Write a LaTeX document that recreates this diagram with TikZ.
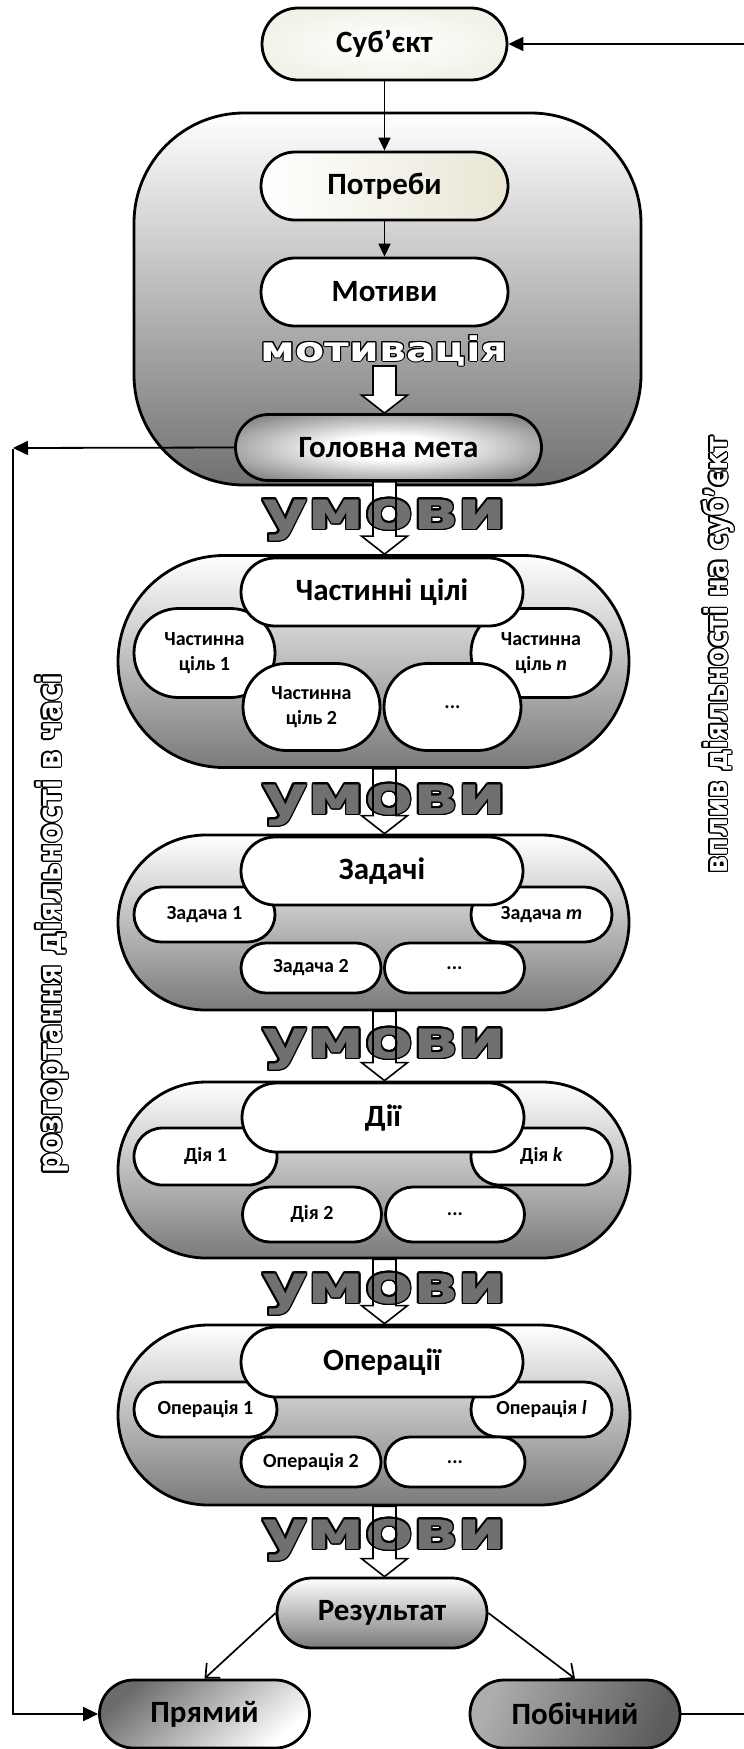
\documentclass[tikz,border=0pt]{standalone}
\usepackage{fontspec}
\setmainfont{Carlito}
\newfontfamily\umfont{DejaVu Sans}[FakeStretch=1.3]
\newfontfamily\motfont{DejaVu Sans}[FakeStretch=1.25]
\newfontfamily\rotfont{DejaVu Sans}[FakeStretch=0.88]
\usetikzlibrary{shapes.misc,arrows.meta,calc}
\definecolor{cream}{RGB}{243,242,233}
\definecolor{creamr}{RGB}{233,230,212}
\definecolor{umgray}{RGB}{112,112,112}
\pgfdeclareradialshading{glow}{\pgfpoint{0bp}{0bp}}{color(0bp)=(white); color(9bp)=(white); color(30bp)=(black!45); color(42bp)=(black!62); color(50bp)=(black!66)}

% outlined text: #1 name, #2 position, #3 style, #4 fill colour, #5 outline radius, #6 text
\newcommand\olnode[6]{%
  \foreach \oa in {0,22.5,...,337.5}{\node[#3,text=black] at ($(#2)+(\oa:#5)$) {#6};}
  \node[#3,text=#4] (#1) at (#2) {#6};}

% hollow block arrow from coordinate #2 to coordinate #3
\newcommand\blockarrow[3][]{%
  \path[#1] ($(#2)+(-11.5,0)$) -- ($(#3)+(-11.5,-18)$) -- ($(#3)+(-23,-18)$) -- (#3)
    -- ($(#3)+(23,-18)$) -- ($(#3)+(11.5,-18)$) -- ($(#2)+(11.5,0)$) -- cycle;}

\tikzset{
  pill/.style={rounded rectangle, draw=black, line width=2.8pt, inner sep=0pt, align=center},
  bigt/.style={font=\fontsize{31}{34}\selectfont\bfseries},
  smallt/.style={font=\fontsize{20}{25}\selectfont\bfseries},
  wpill/.style={pill, fill=white},
  grp/.style={pill, top color=white, bottom color=black!52},
  thinarrow/.style={line width=1.5pt, -{Triangle[length=13pt,width=12pt]}},
  fbarrow/.style={line width=1.8pt, -{Triangle[length=15pt,width=14pt]}},
  resarrow/.style={line width=1.7pt, -{Straight Barb[length=11pt,width=20pt,line width=1.7pt]}},
  umovst/.style={anchor=base, font=\umfont\bfseries\fontsize{54}{54}\selectfont},
  motst/.style={anchor=base, font=\motfont\bfseries\fontsize{34}{34}\selectfont},
  rotst/.style={anchor=base, rotate=90, font=\rotfont\bfseries\fontsize{33}{33}\selectfont},
  rotst2/.style={anchor=base, rotate=90, font=\rotfont\bfseries\fontsize{31}{31}\selectfont},
  bafill/.style={fill=white},
  badraw/.style={draw=black, line width=1.6pt, line join=miter},
}

\newcommand\umovy[4]{%
  \blockarrow[bafill]{#2}{#3}
  \olnode{#1}{#4}{umovst}{umgray}{1.5}{умови}
  \blockarrow[badraw]{#2}{#3}}

\begin{document}
\begin{tikzpicture}[x=1pt,y=-1pt]
\useasboundingbox (0,0) rectangle (744,1749);
\coordinate (ax) at (384.5,0);

% ---------- motivation block ----------
\node[draw=black, line width=2.8pt, rounded corners=110pt, minimum width=507pt, minimum height=372pt,
      top color=white, bottom color=black!56, inner sep=0pt] (motbox) at (387.5,299) {};
\node[pill, bigt, minimum width=245pt, minimum height=72pt, inner color=white, outer color=cream] (sub) at (384.5,44) {Суб’єкт};
\node[pill, bigt, minimum width=247pt, minimum height=68pt, left color=white, right color=creamr] (potr) at (384.5,186) {Потреби};
\node[wpill, bigt, minimum width=247pt, minimum height=68pt] (motyv) at (384.5,292) {Мотиви};
\draw[thinarrow] (sub.south) -- (potr.north);
\draw[thinarrow] (potr.south) -- (motyv.north);
\olnode{motiv}{384.5,361}{motst}{white}{1.0}{мотивація}
\node[pill, bigt, minimum width=306pt, minimum height=66pt, shading=glow] (gm) at (388.5,447.5) {Головна мета};
\coordinate (mst) at (384.5,366);
\coordinate (gmn) at (gm.north -| ax);
\blockarrow[bafill]{mst}{gmn}
\blockarrow[badraw]{mst}{gmn}

% ---------- group 1 ----------
\node[grp, minimum width=511pt, minimum height=212pt] (g1) at (373.5,661.5) {};
\node[wpill, smallt, minimum width=141pt, minimum height=89pt] (g1a) at (204.5,653) {Частинна\\ціль 1};
\node[wpill, smallt, minimum width=140pt, minimum height=89pt] (g1n) at (541,653) {Частинна\\ціль \textit{n}};
\node[wpill, bigt, minimum width=282pt, minimum height=68pt] (g1t) at (382,592) {Частинні цілі};
\node[wpill, smallt, minimum width=137pt, minimum height=87pt] (g1b) at (311.5,707) {Частинна\\ціль 2};
\node[wpill, smallt, minimum width=137pt, minimum height=87pt] (g1d) at (452.5,707) {...};

% ---------- group 2 ----------
\node[grp, minimum width=511pt, minimum height=175pt] (g2) at (373.5,922.5) {};
\node[wpill, smallt, minimum width=141pt, minimum height=55pt] (g2a) at (204.5,914.5) {Задача 1};
\node[wpill, smallt, minimum width=141pt, minimum height=55pt] (g2n) at (541.5,914.5) {Задача \textit{m}};
\node[wpill, bigt, minimum width=282pt, minimum height=68pt] (g2t) at (382,871) {Задачі};
\node[wpill, smallt, minimum width=140pt, minimum height=50pt] (g2b) at (311,968) {Задача 2};
\node[wpill, smallt, minimum width=140pt, minimum height=50pt] (g2d) at (454.5,968) {...};

% ---------- group 3 ----------
\node[grp, minimum width=512pt, minimum height=176pt] (g3) at (374,1170) {};
\node[wpill, smallt, minimum width=143pt, minimum height=57pt] (g3a) at (205.5,1156.5) {Дія 1};
\node[wpill, smallt, minimum width=141pt, minimum height=57pt] (g3n) at (541.5,1156.5) {Дія \textit{k}};
\node[wpill, bigt, minimum width=282pt, minimum height=69pt] (g3t) at (383,1117.5) {Дії};
\node[wpill, smallt, minimum width=139pt, minimum height=55pt] (g3b) at (312,1214.5) {Дія 2};
\node[wpill, smallt, minimum width=139pt, minimum height=55pt] (g3d) at (455,1214.5) {...};

% ---------- group 4 ----------
\node[grp, minimum width=512pt, minimum height=180pt] (g4) at (374,1415) {};
\node[wpill, smallt, minimum width=143pt, minimum height=55pt] (g4a) at (205.5,1409.5) {Операція 1};
\node[wpill, smallt, minimum width=141pt, minimum height=55pt] (g4n) at (541.5,1409.5) {Операція \textit{l}};
\node[wpill, bigt, minimum width=282pt, minimum height=70pt] (g4t) at (382,1362) {Операції};
\node[wpill, smallt, minimum width=140pt, minimum height=50pt] (g4b) at (311,1462) {Операція 2};
\node[wpill, smallt, minimum width=140pt, minimum height=50pt] (g4d) at (455,1462) {...};

% ---------- results ----------
\node[pill, bigt, minimum width=210pt, minimum height=70pt, top color=white, bottom color=black!52] (res) at (382,1613) {Результат};
\node[pill, bigt, minimum width=210pt, minimum height=68pt, top color=black!58, bottom color=white, shading angle=40] (pr) at (204.5,1714) {Прямий};
\node[pill, bigt, minimum width=210pt, minimum height=68pt, left color=black!32, middle color=white!92!black, right color=black!64, shading angle=70] (pb) at (575,1714) {Побічний};
\draw[resarrow] (res.west) -- (pr.north);
\draw[resarrow] (res.east) -- (pb.north);

% ---------- umovy arrows ----------
\coordinate (u1s) at (gm.south -| ax);  \coordinate (u1e) at (g1.north -| ax);
\coordinate (u2s) at (g1.south -| ax);  \coordinate (u2e) at (g2.north -| ax);
\coordinate (u3s) at (g2.south -| ax);  \coordinate (u3e) at (g3.north -| ax);
\coordinate (u4s) at (g3.south -| ax);  \coordinate (u4e) at (g4.north -| ax);
\coordinate (u5s) at (g4.south -| ax);  \coordinate (u5e) at (res.north -| ax);
\umovy{um1}{u1s}{u1e}{384.5,529}
\umovy{um2}{u2s}{u2e}{384.5,814}
\umovy{um3}{u3s}{u3e}{384.5,1058}
\umovy{um4}{u4s}{u4e}{384.5,1303}
\umovy{um5}{u5s}{u5e}{384.5,1549}

% ---------- feedback lines ----------
\coordinate (lt) at (13,448);
\coordinate (lv1) at (13,449);
\coordinate (lv2) at (13,1714);
\coordinate (rt) at (744,44);
\coordinate (rb) at (744,1714);
\draw[fbarrow] (gm.west) -- (lt);
\draw[fbarrow] (lv1) -- (lv2) -- (pr.west);
\draw[line width=1.8pt] (pb.east) -- (rb);
\draw[fbarrow] (rt) -- (sub.east);

% ---------- rotated labels ----------
\olnode{lefttxt}{61,924}{rotst}{white}{1.3}{розгортання діяльності в часі}
\olnode{righttxt}{727,655}{rotst2}{white}{1.3}{вплив діяльності на суб’єкт}
\end{tikzpicture}
\end{document}
